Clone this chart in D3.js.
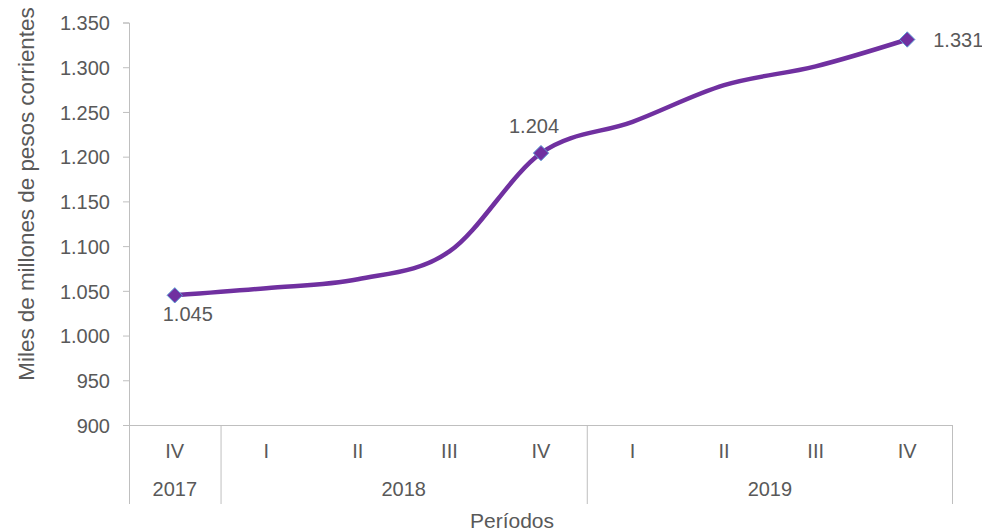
<!DOCTYPE html>
<html>
<head>
<meta charset="utf-8">
<script src="https://cdn.jsdelivr.net/npm/d3@7"></script>
<style>
  body { margin: 0; background: #fff; }
  svg text { font-family: 'Liberation Sans', Arial, sans-serif; fill: #595959; }
</style>
</head>
<body>
<svg width="982" height="531"></svg>
<script>
// chart data
let quarters = ['IV', 'I', 'II', 'III', 'IV', 'I', 'II', 'III', 'IV'];
let years = [{year: '2017', from: 0, to: 1}, {year: '2018', from: 1, to: 5}, {year: '2019', from: 5, to: 9}];
let values = [1045, 1053, 1063, 1094, 1204, 1239, 1280, 1301, 1331];
let labelled = [0, 4, 8];
let yTicks = [900, 950, 1000, 1050, 1100, 1150, 1200, 1250, 1300, 1350];

let svg = d3.select('svg');
let margin = {top: 22.5, right: 29, bottom: 106, left: 129};
let width = +svg.attr('width') - margin.left - margin.right;
let height = +svg.attr('height') - margin.top - margin.bottom;
let g = svg.append('g').attr('transform', 'translate(' + margin.left + ',' + margin.top + ')');

let x = d3.scaleBand().domain(d3.range(quarters.length)).range([0, width]);
let y = d3.scaleLinear().domain([900, 1350]).range([height, 0]);
let fmt = d3.formatLocale({decimal: ',', thousands: '.', grouping: [3]}).format(',');
let axisColor = '#bfbfbf';
let fs = 20;

// y axis
let yAxis = g.append('g')
  .call(d3.axisLeft(y).tickValues(yTicks).tickSize(6).tickPadding(13).tickFormat(fmt));
yAxis.select('.domain').attr('stroke', axisColor);
yAxis.selectAll('.tick line').attr('stroke', axisColor);
yAxis.selectAll('.tick text').attr('font-size', fs).attr('fill', '#595959').attr('dy', '0.36em');

// x axis line
g.append('line')
  .attr('x1', 0).attr('x2', width)
  .attr('y1', height + 0.5).attr('y2', height + 0.5)
  .attr('stroke', axisColor);

// year separators
let seps = [0].concat(years.map(function(d) { return d.to; }));
g.selectAll('.sep').data(seps).enter().append('line')
  .attr('x1', function(d) { return d === quarters.length ? width - 0.5 : x(d) + 0.5; })
  .attr('x2', function(d) { return d === quarters.length ? width - 0.5 : x(d) + 0.5; })
  .attr('y1', height).attr('y2', height + 79)
  .attr('stroke', axisColor);

// quarter labels
g.selectAll('.q').data(quarters).enter().append('text')
  .attr('x', function(d, i) { return x(i) + x.bandwidth() / 2; })
  .attr('y', height + 33)
  .attr('text-anchor', 'middle')
  .attr('font-size', fs)
  .text(function(d) { return d; });

// year labels
g.selectAll('.yr').data(years).enter().append('text')
  .attr('x', function(d) { return (x(d.from) + (d.to === quarters.length ? width : x(d.to))) / 2; })
  .attr('y', height + 71)
  .attr('text-anchor', 'middle')
  .attr('font-size', fs)
  .text(function(d) { return d.year; });

// axis titles
svg.append('text')
  .attr('x', 512)
  .attr('y', 528)
  .attr('text-anchor', 'middle')
  .attr('font-size', 21)
  .text('Períodos');

svg.append('text')
  .attr('transform', 'translate(34,194) rotate(-90)')
  .attr('text-anchor', 'middle')
  .attr('font-size', 22.4)
  .text('Miles de millones de pesos corrientes');

// the line
let line = d3.line()
  .x(function(d, i) { return x(i) + x.bandwidth() / 2; })
  .y(function(d) { return y(d); })
  .curve(d3.curveCardinal.tension(0));

g.append('path')
  .datum(values)
  .attr('fill', 'none')
  .attr('stroke', '#7030a0')
  .attr('stroke-width', 4.5)
  .attr('stroke-linecap', 'round')
  .attr('d', line);

// markers and labels
let diamond = d3.symbol().type(d3.symbolDiamond2).size(150);
g.selectAll('.mark').data(labelled).enter().append('path')
  .attr('d', diamond)
  .attr('transform', function(i) { return 'translate(' + (x(i) + x.bandwidth() / 2) + ',' + y(values[i]) + ')'; })
  .attr('fill', '#7030a0')
  .attr('stroke', '#5b9bd5')
  .attr('stroke-width', 1);

let labelPos = {0: [13, 26, 'middle'], 4: [-7, -20, 'middle'], 8: [26, 8, 'start']};
g.selectAll('.lbl').data(labelled).enter().append('text')
  .attr('x', function(i) { return x(i) + x.bandwidth() / 2 + labelPos[i][0]; })
  .attr('y', function(i) { return y(values[i]) + labelPos[i][1]; })
  .attr('text-anchor', function(i) { return labelPos[i][2]; })
  .attr('font-size', fs)
  .attr('fill', '#404040')
  .text(function(i) { return fmt(values[i]); });
</script>
</body>
</html>
